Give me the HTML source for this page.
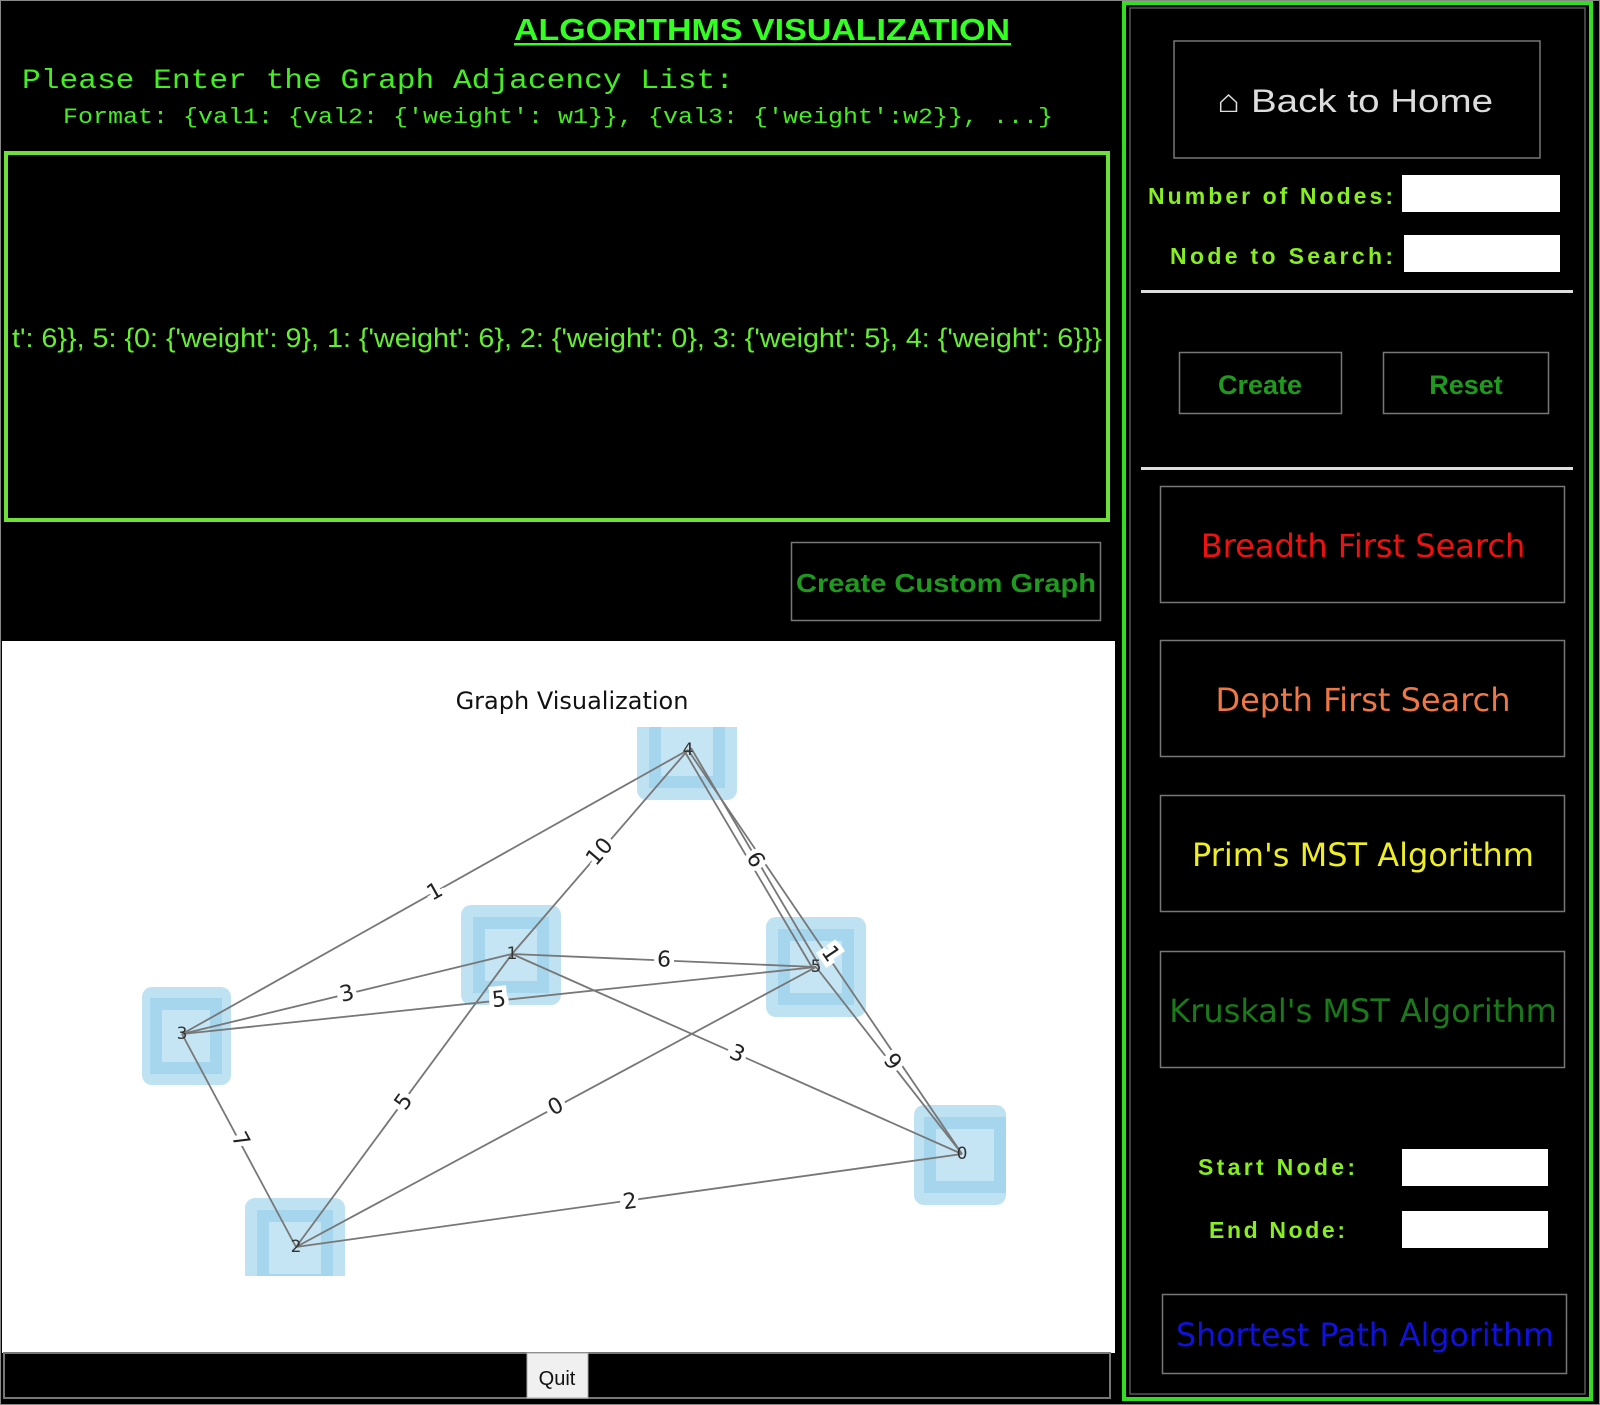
<!DOCTYPE html>
<html><head><meta charset="utf-8"><style>
html,body{margin:0;padding:0;background:#000;width:1600px;height:1405px;overflow:hidden}
svg{display:block}
</style></head><body>
<svg width="1600" height="1405" viewBox="0 0 1600 1405" xmlns="http://www.w3.org/2000/svg">
<defs><clipPath id="ax"><rect x="0" y="727" width="1115" height="549"/></clipPath></defs>
<rect x="0" y="0" width="1600" height="1405" fill="#000"/>
<rect x="0.5" y="0.5" width="1599" height="1404" fill="none" stroke="#888" stroke-width="1"/>
<!-- Title -->
<text x="762" y="40" font-family="Liberation Sans Narrow, Liberation Sans, sans-serif" font-weight="bold" font-size="31" fill="#33ff22" text-anchor="middle" textLength="496" lengthAdjust="spacingAndGlyphs">ALGORITHMS VISUALIZATION</text>
<rect x="514" y="43" width="497" height="2.5" fill="#33ff22"/>
<text x="22" y="88" font-family="Liberation Mono, monospace" font-size="28" fill="#44ee22" textLength="712" lengthAdjust="spacingAndGlyphs">Please Enter the Graph Adjacency List:</text>
<text x="63" y="123" font-family="Liberation Mono, monospace" font-size="22" fill="#44ee22" textLength="990" lengthAdjust="spacingAndGlyphs">Format: {val1: {val2: {'weight': w1}}, {val3: {'weight':w2}}, ...}</text>
<!-- text area -->
<rect x="6" y="153" width="1102" height="367" fill="#000" stroke="#6fe03a" stroke-width="4"/>
<text x="12" y="347" font-family="Liberation Sans, sans-serif" font-size="27" fill="#66ee33" textLength="1090" lengthAdjust="spacingAndGlyphs">t': 6}}, 5: {0: {'weight': 9}, 1: {'weight': 6}, 2: {'weight': 0}, 3: {'weight': 5}, 4: {'weight': 6}}}</text>
<!-- Create custom graph -->
<rect x="791.5" y="542.5" width="309" height="78" fill="#000" stroke="#777" stroke-width="1.5"/>
<text x="946" y="592" font-family="Liberation Sans, sans-serif" font-weight="bold" font-size="26" fill="#1f9a1f" text-anchor="middle" textLength="300" lengthAdjust="spacingAndGlyphs">Create Custom Graph</text>
<!-- plot -->
<rect x="2" y="641" width="1113" height="712" fill="#fff"/>
<text x="572" y="709" font-family="DejaVu Sans, sans-serif" font-size="24" fill="#111" text-anchor="middle">Graph Visualization</text>
<g clip-path="url(#ax)">
<g fill="#bfe2f3">
<rect x="142" y="987" width="89" height="98" rx="10"/>
<rect x="461" y="905" width="100" height="100" rx="10"/>
<rect x="766" y="917" width="100" height="100" rx="10"/>
<rect x="637" y="700" width="100" height="100" rx="10"/>
<rect x="914" y="1105" width="92" height="100" rx="10"/>
<rect x="245" y="1198" width="100" height="100" rx="10"/>
</g>
<g fill="#a5d6ee">
<rect x="150" y="998" width="72" height="76"/>
<rect x="473" y="917" width="76" height="76"/>
<rect x="778" y="929" width="76" height="76"/>
<rect x="649" y="712" width="76" height="76"/>
<rect x="924" y="1117" width="82" height="76"/>
<rect x="257" y="1210" width="76" height="76"/>
</g>
<g fill="#c5e5f4">
<rect x="162" y="1010" width="48" height="52"/>
<rect x="485" y="929" width="52" height="52"/>
<rect x="790" y="941" width="52" height="52"/>
<rect x="661" y="724" width="52" height="52"/>
<rect x="936" y="1129" width="58" height="52"/>
<rect x="269" y="1222" width="52" height="52"/>
</g>
<g stroke="#777" stroke-width="1.8" fill="none">
<line x1="182" y1="1034" x2="688" y2="750"/>
<line x1="688" y1="750" x2="512" y2="954"/>
<line x1="685" y1="752" x2="813" y2="969"/>
<line x1="691" y1="748" x2="819" y2="965"/>
<line x1="688" y1="750" x2="962" y2="1154"/>
<line x1="816" y1="967" x2="962" y2="1154"/>
<line x1="182" y1="1034" x2="512" y2="954"/>
<line x1="182" y1="1034" x2="816" y2="967"/>
<line x1="512" y1="954" x2="816" y2="967"/>
<line x1="512" y1="954" x2="962" y2="1154"/>
<line x1="182" y1="1034" x2="296" y2="1247"/>
<line x1="296" y1="1247" x2="512" y2="954"/>
<line x1="296" y1="1247" x2="816" y2="967"/>
<line x1="296" y1="1247" x2="962" y2="1154"/>
</g>
<g font-family="DejaVu Sans, sans-serif" font-size="22" fill="#222" text-anchor="middle" stroke="#fff" stroke-width="9" paint-order="stroke" dominant-baseline="central">
<text transform="translate(435,892) rotate(-29.3)">1</text>
<text transform="translate(600,852) rotate(-49.2)">10</text>
<text transform="translate(755,860) rotate(59.5)">6</text>
<text transform="translate(830,954) rotate(55.9)">1</text>
<text transform="translate(892,1062) rotate(52)">9</text>
<text transform="translate(347,994) rotate(-13.6)">3</text>
<text transform="translate(499,1000) rotate(-6)">5</text>
<text transform="translate(664,960) rotate(2.4)">6</text>
<text transform="translate(737,1054) rotate(24)">3</text>
<text transform="translate(240,1140) rotate(61.8)">7</text>
<text transform="translate(404,1102) rotate(-53.6)">5</text>
<text transform="translate(556,1107) rotate(-28.3)">0</text>
<text transform="translate(630,1202) rotate(-7.95)">2</text>
</g>
<g font-family="DejaVu Sans, sans-serif" font-size="17" fill="#333" text-anchor="middle" dominant-baseline="central">
<text x="688" y="750">4</text><text x="512" y="954">1</text><text x="816" y="967">5</text>
<text x="182" y="1034">3</text><text x="962" y="1154">0</text><text x="296" y="1247">2</text>
</g>
</g>
<!-- bottom bar -->
<rect x="4" y="1353" width="1106" height="45" fill="#000" stroke="#777" stroke-width="2"/>
<rect x="527" y="1353" width="61" height="45" fill="#f0f0f0" stroke="#aaa"/>
<text x="557" y="1385" font-family="Liberation Sans, sans-serif" font-size="20" fill="#111" text-anchor="middle">Quit</text>
<!-- right panel -->
<rect x="1124" y="3" width="467" height="1396" fill="#000" stroke="#33dd22" stroke-width="4"/>
<rect x="1130" y="8" width="455" height="1386" fill="none" stroke="#555" stroke-width="1.5"/>
<rect x="1174" y="41" width="366" height="117" fill="#000" stroke="#777" stroke-width="1.5"/>
<text x="1217" y="112" font-family="Liberation Sans, sans-serif" font-size="32" fill="#ddd" textLength="276" lengthAdjust="spacingAndGlyphs">⌂ Back to Home</text>
<g font-family="Liberation Sans, sans-serif" font-weight="bold" font-size="23" fill="#88ee22" lengthAdjust="spacingAndGlyphs">
<text x="1148" y="204" textLength="245">Number of Nodes:</text>
<text x="1170" y="264" textLength="223">Node to Search:</text>
<text x="1198" y="1175" textLength="157">Start Node:</text>
<text x="1209" y="1238" textLength="136">End Node:</text>
</g>
<rect x="1402" y="175" width="158" height="37" fill="#fff"/>
<rect x="1404" y="235" width="156" height="37" fill="#fff"/>
<rect x="1402" y="1149" width="146" height="37" fill="#fff"/>
<rect x="1402" y="1211" width="146" height="37" fill="#fff"/>
<rect x="1141" y="290" width="432" height="3" fill="#ddd"/>
<rect x="1141" y="467" width="432" height="3" fill="#ddd"/>
<rect x="1179.5" y="352.5" width="162" height="61" fill="none" stroke="#777" stroke-width="1.5"/>
<rect x="1383.5" y="352.5" width="165" height="61" fill="none" stroke="#777" stroke-width="1.5"/>
<g font-family="Liberation Sans, sans-serif" font-weight="bold" font-size="27" fill="#1f9a1f" text-anchor="middle">
<text x="1260" y="394">Create</text><text x="1466" y="394">Reset</text>
</g>
<g fill="none" stroke="#777" stroke-width="1.5">
<rect x="1160.5" y="486.5" width="404" height="116"/>
<rect x="1160.5" y="640.5" width="404" height="116"/>
<rect x="1160.5" y="795.5" width="404" height="116"/>
<rect x="1160.5" y="951.5" width="404" height="116"/>
<rect x="1162.5" y="1294.5" width="404" height="79"/>
</g>
<g font-family="DejaVu Sans, Liberation Sans, sans-serif" font-size="32" text-anchor="middle">
<text x="1363" y="557" fill="#ee1111">Breadth First Search</text>
<text x="1363" y="711" fill="#ee7744">Depth First Search</text>
<text x="1363" y="866" fill="#eeee22">Prim's MST Algorithm</text>
<text x="1363" y="1022" fill="#1a7a1a">Kruskal's MST Algorithm</text>
<text x="1365" y="1346" fill="#1111dd" textLength="378" lengthAdjust="spacingAndGlyphs">Shortest Path Algorithm</text>
</g>
</svg>
</body></html>
